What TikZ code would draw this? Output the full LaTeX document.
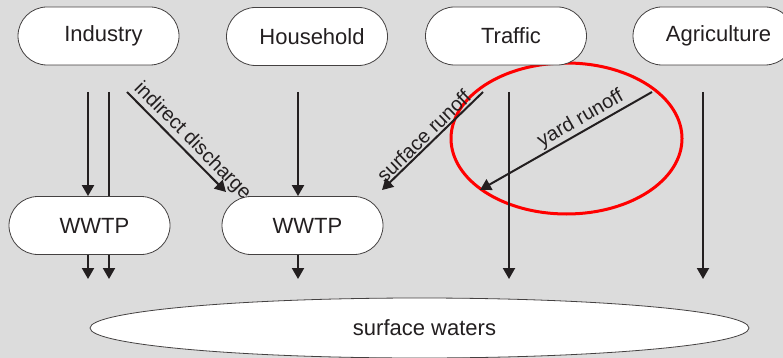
\documentclass[tikz,border=0pt]{standalone}
\usepackage{fontspec}
\setmainfont{Liberation Sans}
\usetikzlibrary{shapes.misc,shapes.geometric,arrows.meta}
\definecolor{bg}{RGB}{220,220,220}
\definecolor{ink}{RGB}{35,31,32}
\begin{document}
\begin{tikzpicture}[x=1pt,y=-1pt,
  pill/.style={rounded rectangle, draw=ink!85, line width=0.8pt, fill=white,
    minimum width=161pt, minimum height=58pt, inner sep=0pt,
    font=\fontsize{22}{26}\selectfont, text=ink},
  pond/.style={ellipse, draw=ink!85, line width=0.8pt, fill=white,
    minimum width=659pt, minimum height=60pt, inner sep=0pt,
    font=\fontsize{22}{26}\selectfont, text=ink},
  flow/.style={draw=ink, line width=2pt, -{Triangle[length=11pt,width=12pt]}},
  plain/.style={draw=ink, line width=2pt},
  lbl/.style={font=\fontsize{20}{24}\selectfont, text=ink, sloped, inner sep=1.5pt}]
\clip (0,0) rectangle (783,358);
\fill[bg] (0,0) rectangle (783,358);

% highlight
\node[ellipse, draw=red, line width=3pt, minimum width=231pt, minimum height=151pt, inner sep=0pt] (hl) at (566.5,138.5) {};

% nodes
\node[pill] (ind) at (98.5,36) {\hspace{10pt}Industry};
\node[pill] (hh)  at (307,36.5) {\hspace{10pt}Household};
\node[pill] (tra) at (506,36) {\hspace{10pt}Traffic};
\node[pill] (agr) at (713.5,36) {\hspace{10pt}Agriculture};
\node[pill] (w1)  at (89.5,225.5) {\hspace{10pt}WWTP};
\node[pill] (w2)  at (302.5,225.5) {\hspace{10pt}WWTP};
\node[pond] (sw)  at (419.5,328) {\hspace{10pt}surface waters};

% connector ends
\coordinate (i1s) at (88,92);
\coordinate (i2s) at (109,92);
\coordinate (o1) at (88,279);
\coordinate (o2) at (109,279);
\coordinate (hs) at (298,92);
\coordinate (o3) at (298,279);
\coordinate (ts) at (509,92);
\coordinate (te) at (509,279);
\coordinate (as) at (703,92);
\coordinate (ae) at (703,279);
\coordinate (ids) at (127,92);
\coordinate (ide) at (226,192);
\coordinate (srs) at (483,92);
\coordinate (sre) at (382,190);
\coordinate (yrs) at (652,92);
\coordinate (yre) at (480,190);

\draw[flow] (i1s) -- (i1s |- w1.north);
\draw[plain] (i2s) -- (i2s |- w1.north);
\draw[flow] (i1s |- w1.south) -- (o1);
\draw[flow] (i2s |- w1.south) -- (o2);
\draw[flow] (hs) -- (hs |- w2.north);
\draw[flow] (hs |- w2.south) -- (o3);
\draw[flow] (ts) -- (te);
\draw[flow] (as) -- (ae);
\draw[flow] (ids) -- node[lbl, pos=0, anchor=south west] {indirect discharge} (ide);
\draw[flow] (srs) -- node[lbl, pos=0.52, above] {surface runoff} (sre);
\draw[flow] (yrs) -- node[lbl, pos=0.38, above] {yard runoff} (yre);
\end{tikzpicture}
\end{document}
